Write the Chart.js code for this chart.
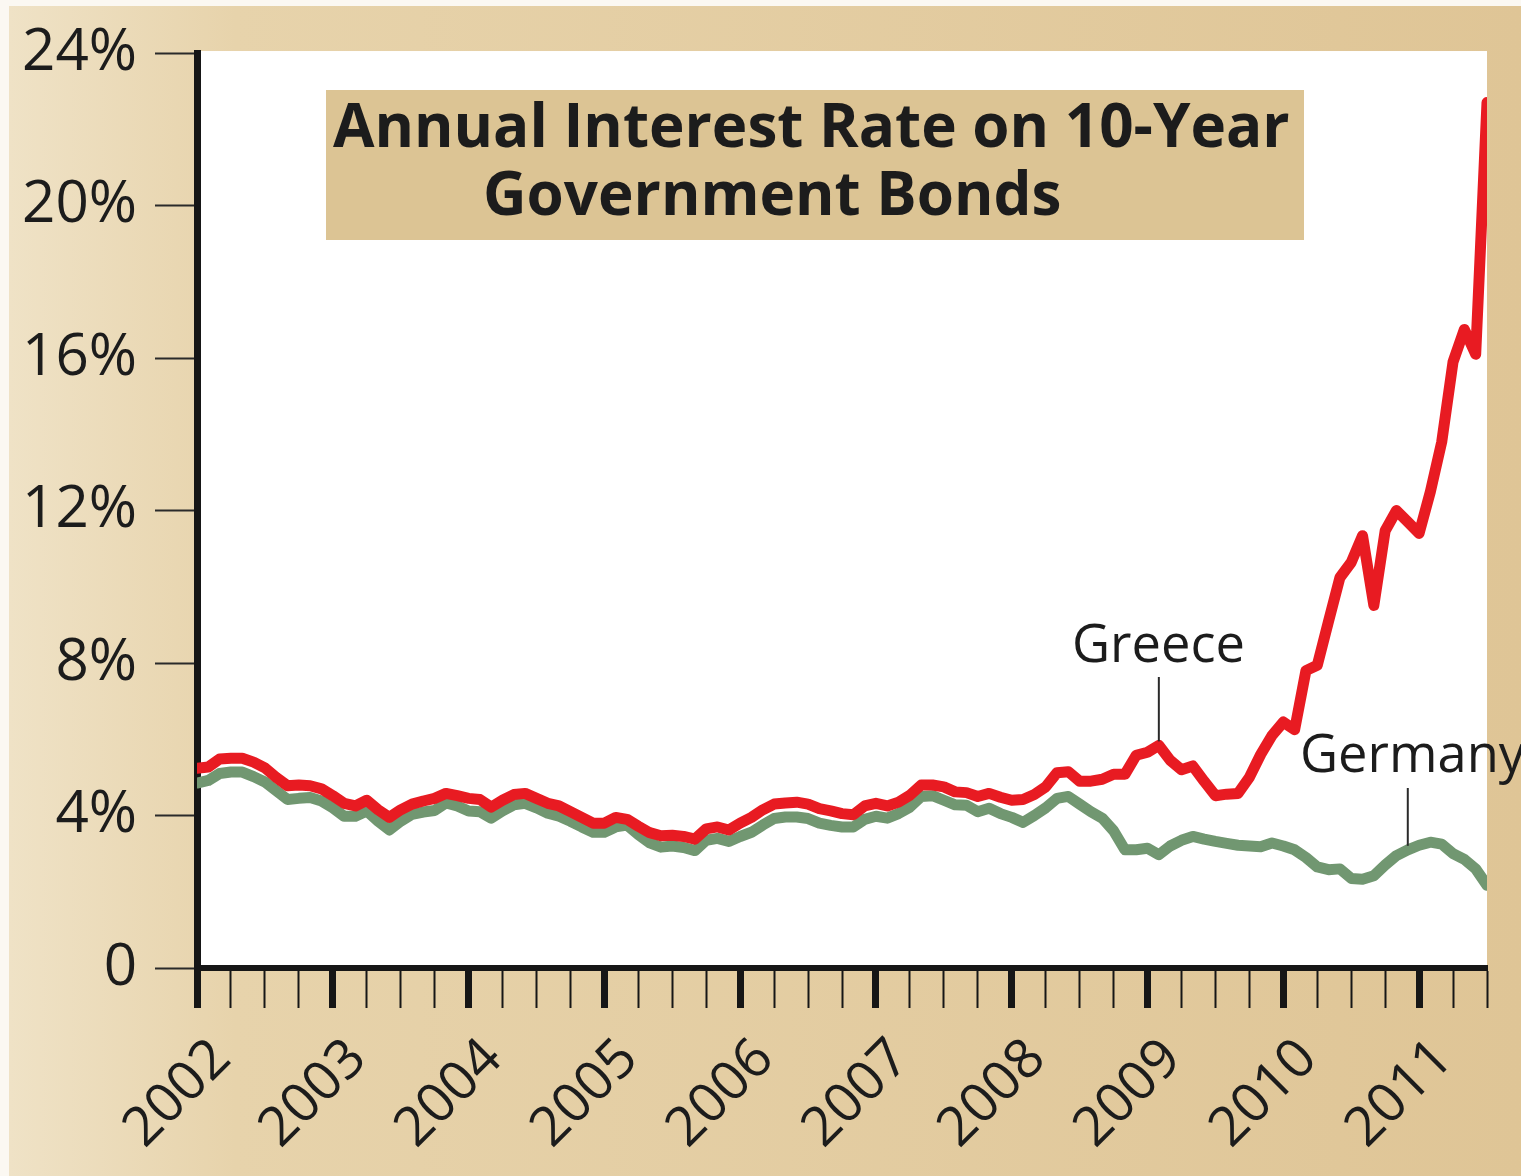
<!DOCTYPE html>
<html lang="en">

<head>
    <meta charset="UTF-8">
    <title>Annual Interest Rate on 10-Year Government Bonds</title>
    <script src="https://cdn.jsdelivr.net/npm/chart.js@4.4.1/dist/chart.umd.min.js"></script>
    <style>
        html, body { margin: 0; padding: 0; background: #fff; overflow: hidden; }
        canvas { display: block; }
    </style>
</head>

<body>
    <canvas id="bonds" width="1521" height="1176"></canvas>

    <script>
        // monthly readings, Jan 2002 onwards (percent)
        var greece = [
            5.24, 5.27, 5.48, 5.5, 5.5, 5.4, 5.25, 5.0, 4.78, 4.8, 4.78, 4.7,
            4.52, 4.32, 4.25, 4.4, 4.15, 3.95, 4.15, 4.3, 4.38, 4.45, 4.58, 4.52,
            4.45, 4.42, 4.22, 4.4, 4.55, 4.58, 4.45, 4.32, 4.25, 4.1, 3.95, 3.8,
            3.8, 3.95, 3.9, 3.72, 3.55, 3.47, 3.48, 3.45, 3.38, 3.65, 3.7, 3.62,
            3.8, 3.95, 4.15, 4.3, 4.33, 4.35, 4.3, 4.18, 4.12, 4.05, 4.02, 4.25,
            4.32, 4.25, 4.35, 4.53, 4.8, 4.8, 4.75, 4.62, 4.6, 4.5, 4.58, 4.48,
            4.4, 4.42, 4.55, 4.75, 5.12, 5.15, 4.9, 4.9, 4.95, 5.08, 5.08, 5.58,
            5.66, 5.84, 5.45, 5.2, 5.3, 4.9, 4.52, 4.56, 4.58, 5.0, 5.6, 6.1,
            6.45, 6.25, 7.8, 7.94, 9.1, 10.24, 10.64, 11.34, 9.51, 11.47, 12.0, 11.7,
            11.4, 12.5, 13.8, 15.9, 16.75, 16.1, 22.7
        ];
        var germany = [
            4.85, 4.92, 5.1, 5.14, 5.14, 5.02, 4.88, 4.65, 4.42, 4.45, 4.47, 4.38,
            4.2, 3.98, 3.98, 4.12, 3.85, 3.62, 3.85, 4.03, 4.09, 4.13, 4.33, 4.25,
            4.12, 4.1, 3.93, 4.12, 4.28, 4.32, 4.2, 4.06, 3.98, 3.85, 3.7, 3.56,
            3.56, 3.7, 3.75, 3.5, 3.28, 3.17, 3.2, 3.16, 3.08, 3.35, 3.4, 3.32,
            3.45, 3.56, 3.75, 3.92, 3.96, 3.96, 3.92, 3.8, 3.74, 3.7, 3.7, 3.9,
            3.98, 3.93, 4.05, 4.22, 4.5, 4.52, 4.4, 4.28, 4.27, 4.1, 4.19, 4.05,
            3.95, 3.82, 4.0, 4.2, 4.45, 4.5, 4.3, 4.1, 3.93, 3.6, 3.1, 3.1,
            3.14, 2.97, 3.2, 3.35, 3.45, 3.38, 3.32, 3.27, 3.22, 3.2, 3.18, 3.28,
            3.2, 3.1, 2.9, 2.65, 2.58, 2.6, 2.35, 2.33, 2.42, 2.7, 2.95, 3.1,
            3.22, 3.3, 3.25, 3.0, 2.85, 2.6, 2.17
        ];
        var months = greece.map(function (_, i) { return 2002 + i / 12; });

        var yearLabels = [2002, 2003, 2004, 2005, 2006, 2007, 2008, 2009, 2010, 2011];
        var rateTicks = [0, 4, 8, 12, 16, 20, 24];
        var rateLabels = ['0', '4%', '8%', '12%', '16%', '20%', '24%'];

        var titleLines = ['Annual Interest Rate on 10-Year', 'Government Bonds'];
        var greeceLabel = { text: 'Greece', index: 85 };
        var germanyLabel = { text: 'Germany', index: 107 };

        var INK = '#1c1c1c';
        var FONT = '"Open Sans", "DejaVu Sans", sans-serif';

        // pick a font size so that text spans the width seen in the picture
        var measure = document.createElement('canvas').getContext('2d');
        function fitSize(text, width, weight) {
            measure.font = weight + ' 100px ' + FONT;
            return 100 * width / measure.measureText(text).width;
        }
        var tickSize = fitSize('24%', 115, 'normal');
        var yearSize = fitSize('2004', 125, 'normal');
        var labelSize = fitSize('Greece', 173, 'normal');
        var titleSize = fitSize(titleLines[0], 957, 'bold');

        var backdrop = {
            id: 'backdrop',
            beforeDraw: function (chart) {
                var ctx = chart.ctx, a = chart.chartArea;
                ctx.save();
                ctx.fillStyle = '#fbf8f2';
                ctx.fillRect(0, 0, chart.width, chart.height);
                var g = ctx.createLinearGradient(9, 0, chart.width, 0);
                g.addColorStop(0, '#efe2c6');
                g.addColorStop(0.15, '#e7d3ab');
                g.addColorStop(1, '#dfc596');
                ctx.fillStyle = g;
                ctx.fillRect(9, 6, chart.width - 9, chart.height - 6);
                ctx.fillStyle = '#ffffff';
                ctx.fillRect(a.left, a.top - 2, a.right - a.left, a.bottom - a.top + 2);
                ctx.restore();
            }
        };

        var notes = {
            id: 'notes',
            afterDraw: function (chart) {
                var ctx = chart.ctx;
                var xs = chart.scales.x, ys = chart.scales.y;
                ctx.save();

                // year labels, slanted, ending up and right of each year tick
                ctx.fillStyle = INK;
                ctx.font = 'normal ' + yearSize + 'px ' + FONT;
                ctx.textAlign = 'right';
                ctx.textBaseline = 'middle';
                yearLabels.forEach(function (yr) {
                    var px = xs.getPixelForValue(yr);
                    ctx.save();
                    ctx.translate(px + 25, xs.top + 82);
                    ctx.rotate(-Math.PI / 4);
                    ctx.fillText(String(yr), 0, 0);
                    ctx.restore();
                });

                // title box
                ctx.fillStyle = '#dcc494';
                ctx.fillRect(326, 90, 978, 150);
                ctx.fillStyle = INK;
                ctx.textBaseline = 'alphabetic';
                ctx.textAlign = 'left';
                ctx.font = 'bold ' + titleSize + 'px ' + FONT;
                ctx.fillText(titleLines[0], 333, 147);
                ctx.fillText(titleLines[1], 483, 215);

                // series labels with leader lines
                ctx.font = 'normal ' + labelSize + 'px ' + FONT;
                ctx.strokeStyle = '#2a2a2a';
                ctx.lineWidth = 2;

                var gx = xs.getPixelForValue(months[greeceLabel.index]);
                var gy = ys.getPixelForValue(greece[greeceLabel.index]);
                ctx.fillText(greeceLabel.text, 1072, 662);
                ctx.beginPath();
                ctx.moveTo(gx, 677);
                ctx.lineTo(gx, gy - 4);
                ctx.stroke();

                var dx = xs.getPixelForValue(months[germanyLabel.index]);
                var dy = ys.getPixelForValue(germany[germanyLabel.index]);
                ctx.fillText(germanyLabel.text, 1300, 772);
                ctx.beginPath();
                ctx.moveTo(dx, 788);
                ctx.lineTo(dx, dy - 4);
                ctx.stroke();

                ctx.restore();
            }
        };

        var chart = new Chart(document.getElementById('bonds'), {
            type: 'line',
            data: {
                datasets: [{
                    label: 'Greece',
                    data: months.map(function (m, i) { return { x: m, y: greece[i] }; }),
                    borderColor: '#e81b22',
                    borderWidth: 11,
                    order: 1
                }, {
                    label: 'Germany',
                    data: months.map(function (m, i) { return { x: m, y: germany[i] }; }),
                    borderColor: '#719771',
                    borderWidth: 11,
                    order: 2
                }]
            },
            options: {
                responsive: false,
                devicePixelRatio: 1,
                animation: false,
                layout: { padding: { left: 0, top: 52, right: 34, bottom: 0 } },
                elements: {
                    point: { radius: 0, hoverRadius: 0 },
                    line: { tension: 0, borderJoinStyle: 'round', borderCapStyle: 'round' }
                },
                plugins: {
                    legend: { display: false },
                    tooltip: { enabled: false },
                    title: { display: false }
                },
                scales: {
                    x: {
                        type: 'linear',
                        min: 2002,
                        max: 2011.5,
                        afterFit: function (s) {
                            s.height = 208;
                            s.paddingLeft = 0;
                            s.paddingRight = 0;
                        },
                        afterBuildTicks: function (s) {
                            var t = [];
                            for (var v = 2002; v <= 2011.5; v += 0.25) t.push({ value: v });
                            s.ticks = t;
                        },
                        ticks: { display: false, autoSkip: false },
                        grid: {
                            drawOnChartArea: false,
                            tickLength: 40,
                            tickColor: '#161616',
                            tickWidth: function (c) {
                                return c.tick && yearLabels.indexOf(c.tick.value) >= 0 ? 7 : 2;
                            }
                        },
                        border: { color: '#161616', width: 6 }
                    },
                    y: {
                        min: 0,
                        max: 24,
                        afterFit: function (s) { s.width = 197; },
                        afterBuildTicks: function (s) {
                            s.ticks = rateTicks.map(function (v) { return { value: v }; });
                        },
                        ticks: {
                            padding: 18,
                            color: INK,
                            font: { family: FONT, size: tickSize },
                            callback: function (v) {
                                var i = rateTicks.indexOf(v);
                                return i >= 0 ? rateLabels[i] : '';
                            }
                        },
                        grid: {
                            drawOnChartArea: false,
                            tickLength: 42,
                            tickColor: '#2a2a2a',
                            tickWidth: 2
                        },
                        border: { color: '#161616', width: 7 }
                    }
                }
            },
            plugins: [backdrop, notes]
        });
    </script>
</body>

</html>
